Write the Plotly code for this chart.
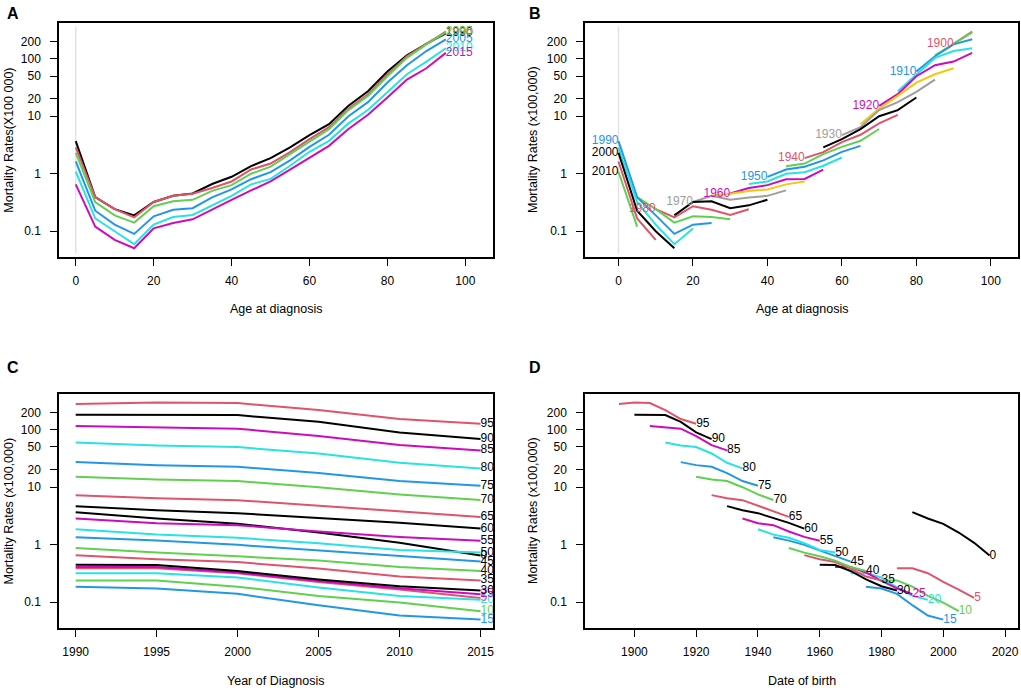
import plotly.graph_objects as go

# mortality rates (x100,000) by age group, one list per year of diagnosis
ages = [0, 5, 10, 15, 20, 25, 30, 35, 40, 45, 50, 55, 60, 65, 70, 75, 80, 85, 90, 95]
periods = [1990, 1995, 2000, 2005, 2010, 2015]

rate_1990 = [3.68, 0.39, 0.24, 0.187, 0.32, 0.41, 0.45, 0.66, 0.88, 1.35, 1.86, 2.86, 4.69, 7.28, 15.2, 27.3, 60.0, 115.5, 182, 279]
rate_1995 = [2.86, 0.39, 0.24, 0.173, 0.32, 0.41, 0.445, 0.56, 0.73, 1.18, 1.50, 2.37, 3.99, 6.45, 13.6, 24.2, 53.2, 111, 183, 298]
rate_2000 = [2.31, 0.32, 0.187, 0.14, 0.27, 0.33, 0.35, 0.50, 0.63, 0.995, 1.32, 2.19, 3.54, 5.96, 12.8, 22.6, 49.8, 104, 179, 290]
rate_2005 = [1.63, 0.226, 0.129, 0.089, 0.18, 0.235, 0.25, 0.385, 0.53, 0.80, 1.06, 1.70, 2.93, 4.75, 10.0, 17.6, 38.6, 77.4, 137, 219]
rate_2010 = [1.08, 0.166, 0.099, 0.059, 0.129, 0.175, 0.19, 0.28, 0.41, 0.65, 0.81, 1.37, 2.40, 3.73, 7.5, 12.8, 26.6, 54, 89.6, 153]
rate_2015 = [0.65, 0.119, 0.070, 0.050, 0.111, 0.138, 0.16, 0.24, 0.35, 0.51, 0.73, 1.17, 1.91, 3.05, 6.0, 10.6, 21.2, 43.6, 68.6, 127]

rates = {1990: rate_1990, 1995: rate_1995, 2000: rate_2000,
         2005: rate_2005, 2010: rate_2010, 2015: rate_2015}

cohorts = list(range(1895, 2016, 5))
cohort_labels = list(range(1900, 2011, 10))

ytick_vals = [0.1, 1, 10, 20, 50, 100, 200]

# R default palette
pal = ["#000000", "#DF536B", "#61D04F", "#2297E6", "#28E2E5", "#CD0BBC", "#F5C710", "#9E9E9E"]
FONT = "Liberation Sans, Arial, Helvetica, sans-serif"


def cohort_col(c):
    i = (c - 1895) // 5
    if i <= 20:
        return pal[i % 8]
    return pal[(i - 21) % 8]


def age_label_col(i, a):
    if a >= 30 or a == 0:
        return "#000000"
    return pal[i % 6]


fig = go.Figure()

# ---- A: rate by age, one line per period
for j, p in enumerate(periods):
    fig.add_trace(go.Scatter(x=ages, y=rates[p], mode="lines", xaxis="x", yaxis="y",
                             line=dict(color=pal[j % 6], width=2)))
for j, p in enumerate(periods):
    fig.add_trace(go.Scatter(x=[ages[-1]], y=[rates[p][-1]], mode="text", text=[str(p)],
                             textposition="middle right", xaxis="x", yaxis="y",
                             textfont=dict(color=pal[j % 6], size=12, family=FONT)))

# ---- B: rate by age, one line per birth cohort
for c in cohorts:
    xs, ys = [], []
    for i, a in enumerate(ages):
        p = c + a
        if p in rates:
            xs.append(a)
            ys.append(rates[p][i])
    if len(xs) < 2:
        continue
    fig.add_trace(go.Scatter(x=xs, y=ys, mode="lines", xaxis="x2", yaxis="y2",
                             line=dict(color=cohort_col(c), width=2)))
for c in cohort_labels:
    for i, a in enumerate(ages):
        if c + a in rates:
            lab_col = "#000000" if c >= 2000 else cohort_col(c)
            fig.add_trace(go.Scatter(x=[a], y=[rates[c + a][i]], mode="text", text=[str(c)],
                                     textposition="middle left", xaxis="x2", yaxis="y2",
                                     textfont=dict(color=lab_col, size=12, family=FONT)))
            break

# ---- C: rate by period, one line per age
for i, a in enumerate(ages):
    fig.add_trace(go.Scatter(x=periods, y=[rates[p][i] for p in periods], mode="lines",
                             xaxis="x3", yaxis="y3", line=dict(color=pal[i % 6], width=2)))
for i, a in enumerate(ages):
    fig.add_trace(go.Scatter(x=[periods[-1]], y=[rates[periods[-1]][i]], mode="text",
                             text=[str(a)], textposition="middle right", cliponaxis=True,
                             xaxis="x3", yaxis="y3",
                             textfont=dict(color=age_label_col(i, a), size=12, family=FONT)))

# ---- D: rate by date of birth, one line per age
for i, a in enumerate(ages):
    fig.add_trace(go.Scatter(x=[p - a for p in periods], y=[rates[p][i] for p in periods],
                             mode="lines", xaxis="x4", yaxis="y4",
                             line=dict(color=pal[i % 6], width=2)))
for i, a in enumerate(ages):
    fig.add_trace(go.Scatter(x=[periods[-1] - a], y=[rates[periods[-1]][i]], mode="text",
                             text=[str(a)], textposition="middle right",
                             xaxis="x4", yaxis="y4",
                             textfont=dict(color=age_label_col(i, a), size=12, family=FONT)))

W, H = 1021, 690
dom_left = [59 / W, 493 / W]
dom_right = [585 / W, 1018 / W]
dom_top = [1 - 257 / H, 1 - 23 / H]
dom_bot = [1 - 628 / H, 1 - 394 / H]


def xax(dom, rng, dtick, anchor):
    return dict(domain=dom, range=rng, dtick=dtick, tick0=0, anchor=anchor,
                showline=True, mirror=True, linecolor="black", linewidth=1.5,
                ticks="outside", ticklen=7, tickwidth=1.2, tickcolor="black",
                showgrid=False, zeroline=False, ticklabelstandoff=5,
                tickfont=dict(size=12, family=FONT, color="black"))


def yax(dom, rng, anchor):
    return dict(domain=dom, type="log", range=rng, anchor=anchor,
                tickvals=ytick_vals, ticktext=[str(v) for v in ytick_vals],
                showline=True, mirror=True, linecolor="black", linewidth=1.5,
                ticks="outside", ticklen=7, tickwidth=1.2, tickcolor="black",
                showgrid=False, zeroline=False, ticklabelstandoff=7,
                tickfont=dict(size=12, family=FONT, color="black"))


fig.update_layout(
    width=W, height=H, margin=dict(l=0, r=0, t=0, b=0),
    paper_bgcolor="white", plot_bgcolor="white", showlegend=False,
    font=dict(family=FONT, size=12, color="black"),
    xaxis=xax(dom_left, [-4.3, 107.1], 20, "y"),
    yaxis=yax(dom_top, [-1.453, 2.625], "x"),
    xaxis2=xax(dom_right, [-9.0, 107.3], 20, "y2"),
    yaxis2=yax(dom_top, [-1.453, 2.625], "x2"),
    xaxis3=xax(dom_left, [1988.97, 2015.77], 5, "y3"),
    yaxis3=yax(dom_bot, [-1.447, 2.62], "x3"),
    xaxis4=xax(dom_right, [1884, 2024.2], 20, "y4"),
    yaxis4=yax(dom_bot, [-1.447, 2.62], "x4"),
)

# light vertical reference line at age 0
for xr, yr in [("x", "y domain"), ("x2", "y2 domain")]:
    fig.add_shape(type="line", xref=xr, yref=yr, x0=0, x1=0, y0=0.015, y1=0.985,
                  line=dict(color="#E3E3E3", width=1.5), layer="below")

annots = [
    ("A", 12.7, 13.5), ("B", 535, 13.5), ("C", 12.7, 367.7), ("D", 535, 367.7),
]
for t, px, py in annots:
    fig.add_annotation(text="<b>%s</b>" % t, x=px / W, y=1 - py / H, xref="paper", yref="paper",
                       xanchor="center", yanchor="middle", showarrow=False,
                       font=dict(size=16, family=FONT, color="black"))

xtitles = [("Age at diagnosis", 276, 309), ("Age at diagnosis", 801.5, 309),
           ("Year of Diagnosis", 276, 680.5), ("Date of birth", 801.5, 680.5)]
for t, px, py in xtitles:
    fig.add_annotation(text=t, x=px / W, y=1 - py / H, xref="paper", yref="paper",
                       xanchor="center", yanchor="middle", showarrow=False,
                       font=dict(size=12.5, family=FONT, color="black"))

ytitles = [("Mortality Rates(X100 000)", 8.7, 140), ("Mortality Rates (x100,000)", 533, 140),
           ("Mortality Rates (x100,000)", 8.5, 511), ("Mortality Rates (x100,000)", 533, 511)]
for t, px, py in ytitles:
    fig.add_annotation(text=t, x=px / W, y=1 - py / H, xref="paper", yref="paper",
                       xanchor="center", yanchor="middle", showarrow=False, textangle=-90,
                       font=dict(size=12.5, family=FONT, color="black"))

# page body has a default 8px margin; drop it so the figure sits at the window corner
fig.write_html("out.html", config={"displayModeBar": False},
               post_script="document.body.style.margin='0';")
